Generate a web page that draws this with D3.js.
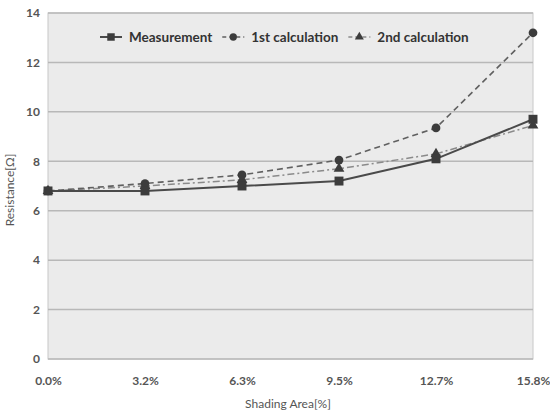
<!DOCTYPE html>
<html>
<head>
<meta charset="utf-8">
<script src="https://cdn.jsdelivr.net/npm/d3@7"></script>
<style>
  body { margin: 0; background: #fff; }
  text { font-family: Lato, "Open Sans", sans-serif; }
</style>
</head>
<body>
<div id="chart"></div>
<script>
// chart data
const categories = ['0.0%', '3.2%', '6.3%', '9.5%', '12.7%', '15.8%'];
const measurement = [6.8, 6.8, 7.0, 7.2, 8.1, 9.7];
const calc1 = [6.8, 7.1, 7.45, 8.05, 9.35, 13.2];
const calc2 = [6.8, 7.0, 7.25, 7.7, 8.3, 9.45];
const yTicks = [0, 2, 4, 6, 8, 10, 12, 14];

const W = 550, H = 415;
const pad = {left: 48, right: 17, top: 13, bottom: 56};

const svg = d3.select('#chart').append('svg')
  .attr('width', W).attr('height', H);
svg.append('rect').attr('width', W).attr('height', H).attr('fill', '#fff');

const x = d3.scalePoint().domain(categories)
  .range([pad.left, W - pad.right]);
const y = d3.scaleLinear().domain([0, 14])
  .range([H - pad.bottom, pad.top]);

// plot area
svg.append('rect')
  .attr('x', pad.left).attr('y', pad.top)
  .attr('width', W - pad.left - pad.right)
  .attr('height', H - pad.top - pad.bottom)
  .attr('fill', '#ebebeb').attr('stroke', '#c8c8c8');

// grid
svg.append('g').selectAll('line').data(yTicks).enter()
  .append('line')
  .attr('x1', pad.left).attr('x2', W - pad.right)
  .attr('y1', d => y(d)).attr('y2', d => y(d))
  .attr('stroke', '#b8b8b8').attr('stroke-width', 1.5);

// axes
const yAxis = svg.append('g')
  .attr('transform', 'translate(' + pad.left + ',0)')
  .call(d3.axisLeft(y).tickValues(yTicks).tickSize(0).tickPadding(8));
const xAxis = svg.append('g')
  .attr('transform', 'translate(0,' + (H - pad.bottom) + ')')
  .call(d3.axisBottom(x).tickSize(0).tickPadding(17));
[yAxis, xAxis].forEach(g => {
  g.select('.domain').remove();
  g.selectAll('text')
    .attr('fill', '#555').attr('font-size', 12).attr('font-weight', 'bold')
    .style('font-family', 'Lato, sans-serif');
});

svg.append('text')
  .attr('x', 288).attr('y', 408)
  .attr('text-anchor', 'middle').attr('font-size', 12)
  .attr('fill', '#555')
  .text('Shading Area[%]');
svg.append('text')
  .attr('transform', 'translate(14,190) rotate(-90)')
  .attr('text-anchor', 'middle').attr('font-size', 12)
  .attr('fill', '#555')
  .text('Resistance[Ω]');

const series = [
  {name: 'Measurement', values: measurement, color: '#4a4a4a', dash: null, width: 2, marker: 'square'},
  {name: '1st calculation', values: calc1, color: '#606060', dash: '6,4', width: 1.6, marker: 'circle'},
  {name: '2nd calculation', values: calc2, color: '#8a8a8a', dash: '7,3,2,3', width: 1.5, marker: 'triangle'}
];
const symbols = {square: d3.symbolSquare, circle: d3.symbolCircle, triangle: d3.symbolTriangle};
const sizes = {square: 80, circle: 60, triangle: 50};

const line = d3.line().x((d, i) => x(categories[i])).y(d => y(d));

// draw back to front so measurement sits on top
series.slice().reverse().forEach(s => {
  const g = svg.append('g');
  g.append('path').attr('d', line(s.values))
    .attr('fill', 'none').attr('stroke', s.color)
    .attr('stroke-width', s.width)
    .attr('stroke-dasharray', s.dash);
  g.selectAll('path.m').data(s.values).enter()
    .append('path').attr('class', 'm')
    .attr('transform', (d, i) => 'translate(' + x(categories[i]) + ',' + y(d) + ')')
    .attr('d', d3.symbol().type(symbols[s.marker]).size(sizes[s.marker]))
    .attr('fill', '#3c3c3c');
});

// legend
const legend = svg.append('g').attr('transform', 'translate(100,37)');
let lx = 0;
series.forEach(s => {
  const item = legend.append('g').attr('transform', 'translate(' + lx + ',0)');
  item.append('line').attr('x1', 0).attr('x2', 22)
    .attr('stroke', s.color).attr('stroke-width', s.width)
    .attr('stroke-dasharray', s.marker == 'square' ? null : '4,3');
  item.append('path').attr('transform', 'translate(11,0)')
    .attr('d', d3.symbol().type(symbols[s.marker]).size(sizes[s.marker] * 0.7))
    .attr('fill', '#3c3c3c');
  const t = item.append('text').attr('x', 29).attr('y', 4.5)
    .attr('font-size', 13.5).attr('font-weight', 'bold').attr('fill', '#333')
    .text(s.name);
  lx += 29 + t.node().getComputedTextLength() + 10;
});
</script>
</body>
</html>
